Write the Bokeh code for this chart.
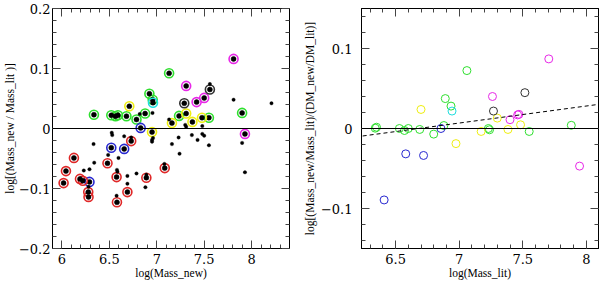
from bokeh.plotting import figure
from bokeh.models import LinearAxis, Range1d, FixedTicker, CustomJSTickFormatter, Span, Slope
from bokeh.layouts import row
from bokeh.embed import file_html
from bokeh.resources import INLINE

# ---------------- Left panel data: log(Mass_new) vs log(Mass_new/Mass_lit)
L_green_x = [6.337, 6.52, 6.565, 6.59, 6.68, 6.786, 6.877, 6.922, 6.957, 7.13, 7.235, 7.55, 7.90]
L_green_y = [0.023, 0.022, 0.0205, 0.022, 0.0205, 0.015, 0.025, 0.058, 0.048, 0.092, 0.021, 0.018, 0.026]
L_cyan_x = [6.96]
L_cyan_y = [0.043]
L_yellow_x = [6.71, 7.16, 7.31, 7.376, 7.477, 6.95]
L_yellow_y = [0.037, 0.009, 0.025, 0.011, 0.018, -0.006]
L_blue_x = [6.83, 6.52, 6.656, 6.29]
L_blue_y = [0.001, -0.032, -0.034, -0.089]
L_red_x = [6.73, 6.126, 6.48, 6.042, 7.084, 6.19, 6.22, 6.576, 6.89, 6.017, 6.277, 6.28, 6.69, 6.58]
L_red_y = [-0.021, -0.049, -0.058, -0.071, -0.066, -0.084, -0.087, -0.081, -0.082, -0.091, -0.106, -0.114, -0.106, -0.123]
L_magenta_x = [7.31, 7.42, 7.50, 7.81, 7.93]
L_magenta_y = [0.071, 0.044, 0.051, 0.116, -0.009]
L_black_x = [7.29, 7.56]
L_black_y = [0.042, 0.065]
L_dot_x = [8.21, 6.955, 6.82, 7.56, 7.81, 7.13, 7.30, 7.31, 7.48, 6.525, 6.53, 6.656, 6.73, 6.96,
           7.23, 7.37, 7.48, 7.50, 6.95, 6.95, 6.333, 7.16, 7.43, 7.55, 7.90, 6.487, 6.596, 7.24,
           6.34, 7.08, 6.23, 6.29, 6.58, 6.585, 6.69, 6.786, 6.89, 7.93, 6.69, 6.88, 6.28, 6.576]
L_dot_y = [0.042, 0.026, 0.024, 0.074, 0.048, 0.015, 0.006, 0.003, 0.004, -0.007, -0.011, -0.013, -0.015, -0.016,
           -0.015, -0.011, -0.009, -0.012, -0.019, -0.022, -0.026, -0.026, -0.019, -0.028, -0.024, -0.044, -0.049, -0.042,
           -0.057, -0.059, -0.070, -0.068, -0.069, -0.072, -0.079, -0.075, -0.077, -0.073, -0.092, -0.098, -0.097, -0.112]

# ---------------- Right panel data: log(Mass_lit) vs corrected ratio
R_green_x = [6.34, 6.35, 6.53, 6.57, 6.60, 6.69, 6.80, 6.88, 6.891, 6.936, 7.061, 7.23, 7.239, 7.551, 7.882]
R_green_y = [0.0004, 0.0016, 0.0, -0.0025, 0.0, -0.0012, -0.007, 0.0037, 0.0374, 0.028, 0.0724, 0.0, -0.0016, -0.0037, 0.004]
R_cyan_x = [6.944]
R_cyan_y = [0.0218]
R_yellow_x = [6.70, 6.975, 7.173, 7.30, 7.384, 7.483]
R_yellow_y = [0.0238, -0.0189, -0.0037, 0.013, -0.0012, 0.0046]
R_blue_x = [6.857, 6.58, 6.72, 6.41]
R_blue_y = [0.0, -0.0317, -0.0337, -0.0893]
R_magenta_x = [7.262, 7.40, 7.46, 7.47, 7.705, 7.947]
R_magenta_y = [0.040, 0.011, 0.017, 0.0177, 0.087, -0.047]
R_black_x = [7.27, 7.517]
R_black_y = [0.0218, 0.0448]
fit_slope = 0.0213
fit_intercept = -0.1423

L_xticks = [6, 6.5, 7, 7.5, 8]
L_yticks = [-0.2, -0.1, 0, 0.1, 0.2]
R_xticks = [6.5, 7, 7.5, 8]
R_yticks = [-0.1, 0, 0.1]

GREEN = "#2fe02f"
RED = "#e02828"
BLUE = "#2828d0"
YELLOW = "#eeee10"
MAGENTA = "#e828e8"
CYAN = "#20dede"
DARK = "#333333"

FONT = "DejaVu Serif"
LFONT = "Liberation Serif"

fmt = CustomJSTickFormatter(code="""
let s = String(Math.round(tick*10)/10);
return s.replace('-', '\u2212');
""")
blank = CustomJSTickFormatter(code="return '';")


def frange(a, b, step):
    out = []
    n = int(round((b - a) / step))
    for i in range(n + 1):
        out.append(round(a + i * step, 4))
    return out


def make_fig(width, xr, yr, bl, br, xt, xminor, yt, yminor, xlabel, ylabel, ystand, lstand):
    p = figure(width=width, height=281, x_range=Range1d(*xr), y_range=Range1d(*yr),
               output_backend="svg", toolbar_location=None,
               min_border_left=bl, min_border_right=br, min_border_top=8, min_border_bottom=33,
               x_axis_label=xlabel, y_axis_label=ylabel)
    p.grid.visible = False
    p.outline_line_color = "black"
    p.outline_line_width = 1
    p.background_fill_color = "white"
    p.border_fill_color = "white"
    xtk = FixedTicker(ticks=xt, minor_ticks=xminor)
    ytk = FixedTicker(ticks=yt, minor_ticks=yminor)
    for ax, tk in ((p.xaxis[0], xtk), (p.yaxis[0], ytk)):
        ax.ticker = tk
        ax.formatter = fmt
        ax.major_tick_in = 8
        ax.major_tick_out = 0
        ax.minor_tick_in = 4
        ax.minor_tick_out = 0
        ax.major_tick_line_color = "#444444"
        ax.minor_tick_line_color = "#444444"
        ax.axis_line_color = "black"
        ax.major_label_text_font = FONT
        ax.major_label_text_font_size = "13px"
        ax.major_label_text_color = "black"
        ax.axis_label_text_font = LFONT
        ax.axis_label_text_font_size = "11.5px"
        ax.axis_label_text_font_style = "normal"
        ax.axis_label_text_color = "black"
    p.xaxis[0].major_label_standoff = 5
    p.xaxis[0].axis_label_standoff = 0
    p.yaxis[0].major_label_standoff = ystand
    p.yaxis[0].axis_label_standoff = lstand
    for loc, tk in (("above", xtk), ("right", ytk)):
        ax = LinearAxis(ticker=tk, formatter=blank, major_tick_in=8, major_tick_out=0,
                        minor_tick_in=4, minor_tick_out=0, major_label_standoff=0,
                        major_tick_line_color="#444444", minor_tick_line_color="#444444",
                        axis_line_color="black")
        p.add_layout(ax, loc)
    p.add_layout(Span(location=0, dimension="width", line_color="black", line_width=1))
    return p


left = make_fig(300, (5.9, 8.4), (-0.2, 0.2), 52, 11, L_xticks, frange(5.9, 8.4, 0.1),
                L_yticks, frange(-0.2, 0.2, 0.02), "log(Mass_new)", "log[(Mass_new / Mass_lit )]", 2, 0)

ring_sets = [(L_green_x, L_green_y, GREEN), (L_cyan_x, L_cyan_y, CYAN), (L_yellow_x, L_yellow_y, YELLOW),
             (L_blue_x, L_blue_y, BLUE), (L_red_x, L_red_y, RED), (L_magenta_x, L_magenta_y, MAGENTA),
             (L_black_x, L_black_y, DARK)]
for xs, ys, c in ring_sets:
    left.scatter(xs, ys, size=9, marker="circle", fill_color=None, line_color=c, line_width=1.6)
    left.scatter(xs, ys, size=5, marker="circle", fill_color="black", line_color="black", line_width=0.5)
left.scatter(L_dot_x, L_dot_y, size=3.5, marker="circle", fill_color="black", line_color="black", line_width=0.3)

right = make_fig(300, (6.232, 8.096), (-0.15, 0.15), 60, 2, R_xticks, frange(6.3, 8.0, 0.1),
                 R_yticks, frange(-0.14, 0.14, 0.02), "log(Mass_lit)",
                 "log[(Mass_new/Mass_lit)/(DM_new/DM_lit)]", 9, 2)
for xs, ys, c in [(R_green_x, R_green_y, GREEN), (R_cyan_x, R_cyan_y, CYAN), (R_yellow_x, R_yellow_y, YELLOW),
                  (R_blue_x, R_blue_y, BLUE), (R_magenta_x, R_magenta_y, MAGENTA), (R_black_x, R_black_y, DARK)]:
    right.scatter(xs, ys, size=8, marker="circle", fill_color=None, line_color=c, line_width=1)
right.add_layout(Slope(gradient=fit_slope, y_intercept=fit_intercept, line_color="black",
                       line_dash="4 3", line_width=1))

p = row(left, right)
open("out.html", "w").write(file_html(p, INLINE))
